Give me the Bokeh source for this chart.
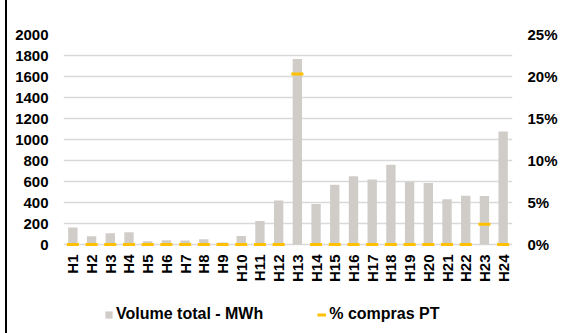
import math
from bokeh.plotting import figure
from bokeh.models import (Range1d, FactorRange, LinearAxis, FixedTicker, NumeralTickFormatter,
                          Legend, LegendItem, ColumnDataSource)
from bokeh.core.properties import value
from bokeh.embed import file_html
from bokeh.resources import INLINE

hours = ["H1", "H2", "H3", "H4", "H5", "H6", "H7", "H8", "H9", "H10", "H11", "H12",
         "H13", "H14", "H15", "H16", "H17", "H18", "H19", "H20", "H21", "H22", "H23", "H24"]
volume_mwh = [163, 79, 107, 117, 31, 40, 38, 50, 20, 80, 224, 418,
              1767, 386, 570, 649, 620, 760, 598, 585, 432, 465, 462, 1076]
pct_compras_pt = [0, 0, 0, 0, 0, 0, 0, 0, 0, 0, 0, 0,
                  0.203, 0, 0, 0, 0, 0, 0, 0, 0, 0, 0.024, 0]
left_ticks = [0, 200, 400, 600, 800, 1000, 1200, 1400, 1600, 1800, 2000]
right_ticks = [0, 0.05, 0.10, 0.15, 0.20, 0.25]

FONT = "Liberation Sans"
BAR = "#D0CDC8"
GOLD = "#FFC000"

# plot area: value axis occupies 210 px (0..max), 89 px extra below for labels/legend
VMAX, PMAX = 2000, 0.25
AXIS_PX, BELOW_PX = 210, 89

src = ColumnDataSource(dict(h=hours, v=volume_mwh, p=pct_compras_pt, zero=[0] * len(hours)))

p = figure(width=575, height=333, x_range=FactorRange(*hours, range_padding=0),
           y_range=Range1d(-VMAX * BELOW_PX / AXIS_PX, VMAX),
           output_backend="svg", toolbar_location=None,
           min_border_left=56, min_border_right=70, min_border_top=34, min_border_bottom=0)
p.styles = {"position": "absolute", "left": "5px", "top": "0px", "border-left": "2px solid black"}
p.outline_line_color = None
p.background_fill_color = "white"
p.border_fill_color = "white"
p.extra_y_ranges = {"pct": Range1d(-PMAX * BELOW_PX / AXIS_PX, PMAX)}

bars = p.vbar(x="h", top="v", width=0.5, source=src, fill_color=BAR, line_color=None)
marks = p.scatter(x="h", y="p", source=src, y_range_name="pct", marker="dash",
                  size=12, line_width=3, line_color=GOLD)
# legend-only proxy (no visible line: the series is shown as markers only)
proxy = p.line(x=hours, y=[float("nan")] * len(hours), line_color=GOLD, line_width=3,
               y_range_name="pct")

# category labels under the zero line
p.text(x="h", y="zero", text="h", source=src, angle=math.pi / 2, y_offset=10,
       text_align="right", text_baseline="middle", text_font=value(FONT),
       text_font_style="bold", text_font_size="15px", text_color="black")

def style_axis(ax, standoff):
    ax.axis_line_color = None
    ax.major_tick_line_color = None
    ax.minor_tick_line_color = None
    ax.major_tick_out = 0
    ax.major_tick_in = 0
    ax.minor_tick_out = 0
    ax.minor_tick_in = 0
    ax.major_label_standoff = standoff
    ax.major_label_text_font = FONT
    ax.major_label_text_font_style = "bold"
    ax.major_label_text_font_size = "15px"
    ax.major_label_text_color = "black"

p.xaxis.visible = False
p.yaxis.ticker = FixedTicker(ticks=left_ticks)
style_axis(p.yaxis[0], 15)

ra = LinearAxis(y_range_name="pct", ticker=FixedTicker(ticks=right_ticks),
                formatter=NumeralTickFormatter(format="0%"))
style_axis(ra, 15)
p.add_layout(ra, "right")

p.xgrid.grid_line_color = None
p.ygrid.ticker = FixedTicker(ticks=left_ticks)
p.ygrid.grid_line_color = "#D9D9D9"
p.ygrid.grid_line_width = 1.5

legend = Legend(items=[LegendItem(label="Volume total - MWh", renderers=[bars]),
                       LegendItem(label="% compras PT", renderers=[proxy])],
                location=(41, 10), orientation="horizontal",
                padding=0, margin=0, spacing=54, border_line_color=None,
                background_fill_alpha=0, glyph_width=9, glyph_height=9,
                label_standoff=3, label_height=16,
                label_text_font=FONT, label_text_font_style="bold",
                label_text_font_size="16px", label_text_color="black")
p.add_layout(legend, "center")

open("out.html", "w").write(file_html(p, INLINE))
